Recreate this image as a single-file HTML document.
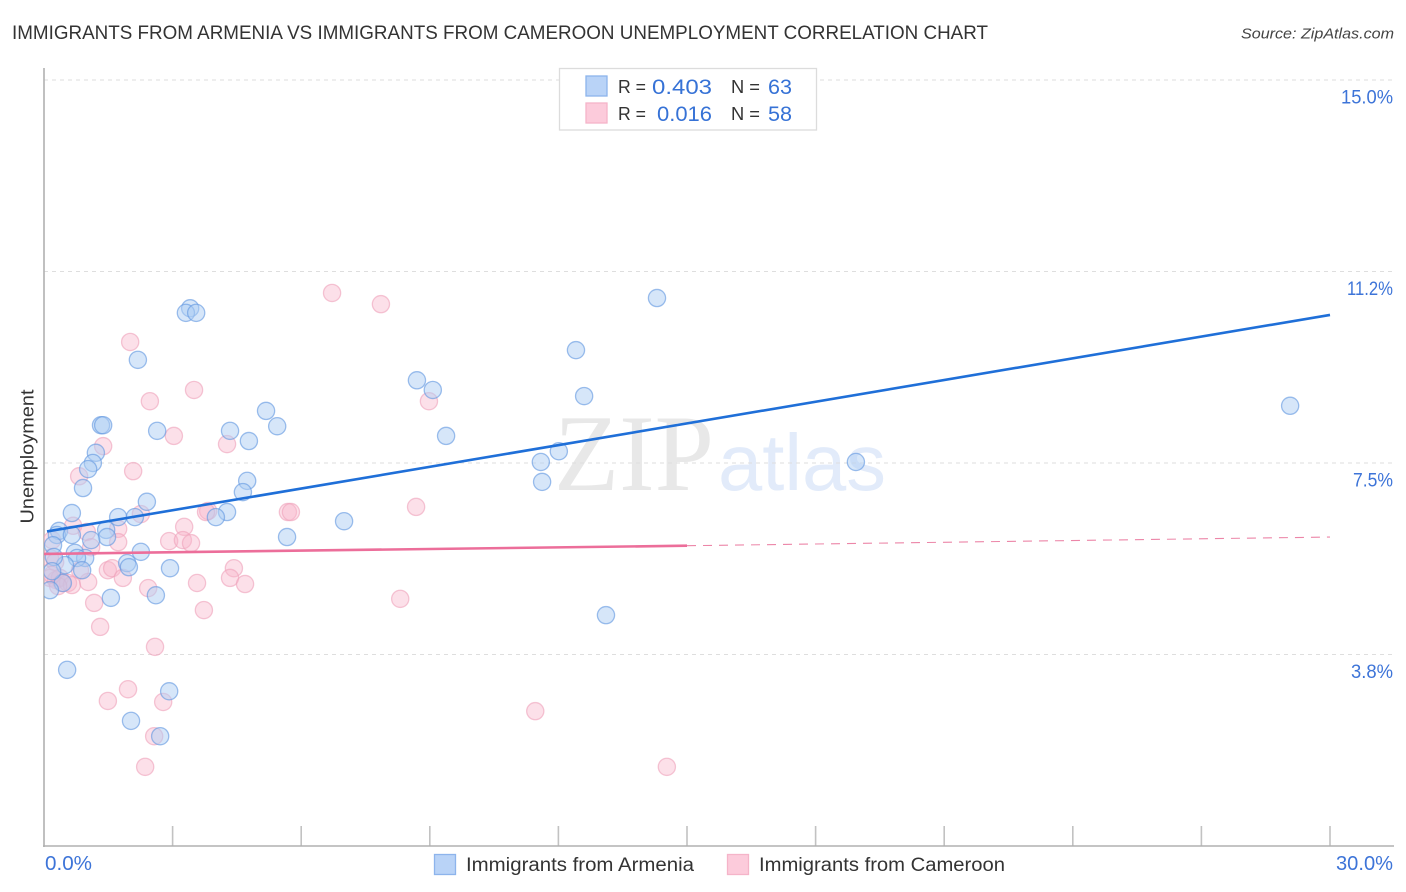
<!DOCTYPE html>
<html lang="en">
<head>
<meta charset="utf-8">
<title>Immigrants from Armenia vs Immigrants from Cameroon Unemployment Correlation Chart</title>
<style>
html,body{margin:0;padding:0;background:#fff;}
svg{display:block;font-family:"Liberation Sans",sans-serif;}
</style>
</head>
<body>
<svg id="chart" xmlns="http://www.w3.org/2000/svg" width="1406" height="892" viewBox="0 0 1406 892">
  <defs>
    <clipPath id="plot-clip"><rect x="44" y="68" width="1350" height="778"/></clipPath>
  </defs>
  <rect width="1406" height="892" fill="#ffffff"/>
  <text x="12" y="39" font-size="19.5" fill="#333" textLength="976" lengthAdjust="spacingAndGlyphs">IMMIGRANTS FROM ARMENIA VS IMMIGRANTS FROM CAMEROON UNEMPLOYMENT CORRELATION CHART</text>
  <text x="1241" y="38.5" font-size="15" font-style="italic" fill="#444" textLength="153" lengthAdjust="spacingAndGlyphs">Source: ZipAtlas.com</text>
  <g>
    <text x="554" y="490" font-family="'Liberation Serif',serif" font-size="109" fill="#e8e8e8" textLength="160" lengthAdjust="spacingAndGlyphs">ZIP</text>
    <text x="718" y="490" font-size="80" fill="#e2ebfa" textLength="168" lengthAdjust="spacingAndGlyphs">atlas</text>
  </g>
  <g id="grid"></g>
  <g id="axes"></g>
  <g id="points" clip-path="url(#plot-clip)"></g>
  <g id="trends"></g>
  <g id="ticklabels"></g>
  <text transform="translate(33.5,456.5) rotate(-90)" text-anchor="middle" font-size="18.5" fill="#333" textLength="134" lengthAdjust="spacingAndGlyphs">Unemployment</text>

  <g>
    <rect x="559.5" y="68.5" width="257" height="61.5" fill="#fff" stroke="#dcdcdc" stroke-width="1.3"/>
    <rect x="586" y="76" width="21" height="20" fill="#b9d3f7" stroke="#8db4ec" stroke-width="1.3"/>
    <rect x="586" y="103" width="21" height="20" fill="#fccbdb" stroke="#f5b4c9" stroke-width="1.3"/>
    <text x="618" y="93" font-size="18" fill="#333" textLength="28" lengthAdjust="spacingAndGlyphs">R =</text>
    <text x="652" y="94" font-size="21.5" fill="#3672d6" textLength="60" lengthAdjust="spacingAndGlyphs">0.403</text>
    <text x="731" y="93" font-size="18" fill="#333" textLength="29" lengthAdjust="spacingAndGlyphs">N =</text>
    <text x="768" y="94" font-size="21.5" fill="#3672d6" textLength="24" lengthAdjust="spacingAndGlyphs">63</text>
    <text x="618" y="120" font-size="18" fill="#333" textLength="28" lengthAdjust="spacingAndGlyphs">R =</text>
    <text x="657" y="121" font-size="21.5" fill="#3672d6" textLength="55" lengthAdjust="spacingAndGlyphs">0.016</text>
    <text x="731" y="120" font-size="18" fill="#333" textLength="29" lengthAdjust="spacingAndGlyphs">N =</text>
    <text x="768" y="121" font-size="21.5" fill="#3672d6" textLength="24" lengthAdjust="spacingAndGlyphs">58</text>
  </g>

  <g>
    <rect x="434.5" y="854.5" width="21" height="20" fill="#b9d3f7" stroke="#8db4ec" stroke-width="1.3"/>
    <text x="466" y="871" font-size="19" fill="#333" textLength="228" lengthAdjust="spacingAndGlyphs">Immigrants from Armenia</text>
    <rect x="727.5" y="854.5" width="21" height="20" fill="#fccbdb" stroke="#f5b4c9" stroke-width="1.3"/>
    <text x="759" y="871" font-size="19" fill="#333" textLength="246" lengthAdjust="spacingAndGlyphs">Immigrants from Cameroon</text>
  </g>
</svg>
<script>
// Data (x = % immigrants, y = % unemployment)
var armeniaX = [1.33,1.38,2.64,4.34,4.78,5.18,5.44,1.21,1.14,1.03,0.91,2.40,0.65,4.74,4.64,4.27,4.01,1.73,2.12,0.35,0.30,0.65,1.45,1.47,1.10,2.26,5.67,2.94,1.56,2.61,1.94,1.98,0.72,0.96,0.77,0.89,0.49,0.21,0.23,0.44,0.14,0.19,3.41,3.31,3.55,2.19,8.70,9.07,9.38,12.41,12.60,14.30,11.59,12.01,11.62,18.94,29.07,7.00,13.11,0.54,2.92,2.03,2.71];
var armeniaY = [8.24,8.24,8.13,8.13,7.93,8.52,8.22,7.70,7.50,7.38,7.01,6.74,6.52,7.15,6.93,6.54,6.44,6.44,6.44,6.17,6.09,6.09,6.19,6.05,5.99,5.76,6.05,5.44,4.86,4.91,5.54,5.46,5.74,5.64,5.64,5.40,5.50,5.89,5.66,5.15,5.01,5.38,10.53,10.44,10.44,9.52,9.12,8.93,8.03,9.71,8.81,10.73,7.52,7.73,7.13,7.52,8.62,6.36,4.52,3.45,3.03,2.45,2.15];
var cameroonX = [2.47,3.03,4.27,1.38,0.82,2.08,3.83,3.78,2.26,0.68,1.00,1.73,1.10,1.73,3.27,2.92,3.24,3.43,5.69,1.49,1.59,1.84,1.03,2.43,3.57,4.43,4.34,4.69,1.17,3.73,1.31,2.59,6.72,7.86,2.01,3.50,8.98,8.68,5.76,8.31,11.46,14.53,2.36,2.57,2.78,1.96,1.49,0.19,0.14,0.26,0.14,0.28,0.37,0.42,0.56,0.65,0.33,0.19,0.84];
var cameroonY = [8.71,8.03,7.87,7.83,7.24,7.34,6.56,6.54,6.50,6.27,6.15,6.21,5.85,5.95,6.25,5.97,5.99,5.93,6.54,5.40,5.44,5.25,5.17,5.05,5.15,5.44,5.25,5.13,4.76,4.62,4.29,3.90,10.83,10.61,9.87,8.93,8.71,6.64,6.54,4.84,2.64,1.55,1.55,2.15,2.82,3.07,2.84,5.99,5.64,5.56,5.25,5.21,5.25,5.15,5.15,5.11,5.09,5.31,5.40];
var armeniaTrendX = [0.07, 30];
var armeniaTrendY = [6.16, 10.40];
var cameroonSolidX = [0, 15];
var cameroonSolidY = [5.72, 5.88];
var cameroonDashX = [15, 30];
var cameroonDashY = [5.88, 6.05];
var xTickValues = [0,3,6,9,12,15,18,21,24,27,30];
var xEndLabels = ["0.0%","30.0%"];
var yTickValues = [15,11.25,7.5,3.75];
var yTickLabels = ["15.0%","11.2%","7.5%","3.8%"];

var SVGNS = "http://www.w3.org/2000/svg";
var labelWidthFor = {"15.0%":52, "11.2%":46, "7.5%":40, "3.8%":42, "0.0%":47, "30.0%":57};
function xScale(v){ return 44 + v / 30 * 1286; }
function yScale(v){ return 846 - v / 15 * 766; }
function make(tag, attrs, parent){
  var el = document.createElementNS(SVGNS, tag);
  for (var k in attrs) el.setAttribute(k, attrs[k]);
  document.getElementById(parent).appendChild(el);
  return el;
}
function fit(el, text){
  el.textContent = text;
  if (labelWidthFor[text]) {
    el.setAttribute("textLength", labelWidthFor[text]);
    el.setAttribute("lengthAdjust", "spacingAndGlyphs");
  }
}

yTickValues.forEach(function(v, i){
  var grid = make("line", {x1:44, x2:1393, y1:yScale(v), y2:yScale(v), stroke:"#dedede", "stroke-width":1.1, "stroke-dasharray":"4 4"}, "grid");
  
  
  var label = make("text", {x:1393, y:yScale(v)+23.5, "text-anchor":"end", "font-size":19, fill:"#3d74d8"}, "ticklabels");
  
  
  fit(label, yTickLabels[i]);
});

xTickValues.forEach(function(v){
  if (v === 0) return;
  var tick = make("line", {x1:xScale(v), x2:xScale(v), y1:826, y2:846, stroke:"#c2c2c2", "stroke-width":1.6}, "axes");
  
  
});

var yAxis = make("line", {x1:44, x2:44, y1:68, y2:847, stroke:"#b0b0b0", "stroke-width":1.6}, "axes");


var xAxis = make("line", {x1:43, x2:1394, y1:846, y2:846, stroke:"#b0b0b0", "stroke-width":1.6}, "axes");



var xLabelLeft = make("text", {x:xScale(0)+1, y:870, "font-size":20.5, fill:"#3d74d8"}, "ticklabels");


fit(xLabelLeft, xEndLabels[0]);
var xLabelRight = make("text", {x:1393, y:870, "text-anchor":"end", "font-size":20.5, fill:"#3d74d8"}, "ticklabels");


fit(xLabelRight, xEndLabels[1]);

cameroonX.forEach(function(v, i){
  var dot = make("circle", {cx:xScale(v), cy:yScale(cameroonY[i]), r:8.6, fill:"#f8b4ca", "fill-opacity":0.42, stroke:"#efa3bb", "stroke-opacity":0.62, "stroke-width":1.3}, "points");
  
  
});
armeniaX.forEach(function(v, i){
  var dot = make("circle", {cx:xScale(v), cy:yScale(armeniaY[i]), r:8.6, fill:"#aecdf4", "fill-opacity":0.5, stroke:"#6398e0", "stroke-opacity":0.62, "stroke-width":1.3}, "points");
  
  
});

var blueLine = make("line", {x1:xScale(armeniaTrendX[0]), y1:yScale(armeniaTrendY[0]), x2:xScale(armeniaTrendX[1]), y2:yScale(armeniaTrendY[1]), stroke:"#1f6fd8", "stroke-width":2.6}, "trends");


var pinkLine = make("line", {x1:xScale(cameroonSolidX[0]), y1:yScale(cameroonSolidY[0]), x2:xScale(cameroonSolidX[1]), y2:yScale(cameroonSolidY[1]), stroke:"#ec6e9a", "stroke-width":2.6}, "trends");


var pinkDash = make("line", {x1:xScale(cameroonDashX[0]), y1:yScale(cameroonDashY[0]), x2:xScale(cameroonDashX[1]), y2:yScale(cameroonDashY[1]), stroke:"#ec86a8", "stroke-width":1.1, "stroke-dasharray":"9 7"}, "trends");


</script>
</body>
</html>
